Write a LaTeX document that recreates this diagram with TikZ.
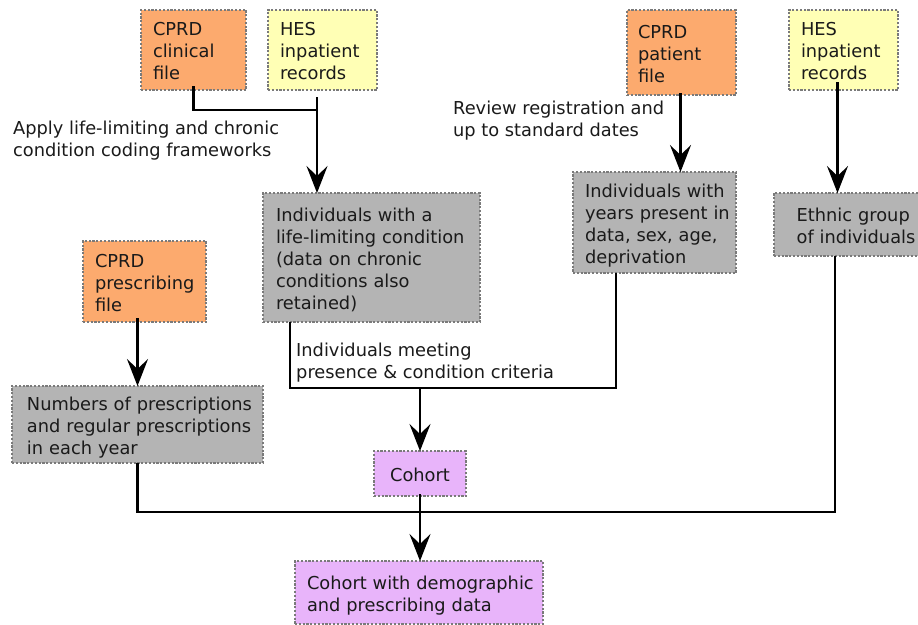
\documentclass[tikz,border=0pt]{standalone}
\usepackage{fontspec}
\setmainfont{DejaVu Sans}
\usetikzlibrary{arrows.meta,calc}
\definecolor{orangebox}{HTML}{FCAA6E}
\definecolor{yellowbox}{HTML}{FFFFB5}
\definecolor{graybox}{HTML}{B4B4B4}
\definecolor{pinkbox}{HTML}{E8B4FA}
\definecolor{txt}{HTML}{1A1A1A}
\definecolor{bord}{HTML}{7A7A7A}
\tikzset{
  every node/.style={font=\fontsize{17.8}{22}\selectfont, text=txt},
  box/.style={draw=bord, dash pattern=on 2.2pt off 1.6pt, line width=1.1pt,
    inner ysep=0pt, align=left, outer sep=0pt},
  orng/.style={box, fill=orangebox},
  yell/.style={box, fill=yellowbox},
  gry/.style={box, fill=graybox},
  pnk/.style={box, fill=pinkbox},
  lbl/.style={inner sep=0pt, align=left, anchor=west},
  conn/.style={line width=2.1pt, draw=black},
  arr/.style={conn, -{Stealth[length=27pt,width=21pt,inset=10pt]}},
}
\newcommand{\mkbox}[8]{% style, name, x1, y1, x2, y2, pad, text
  \pgfmathsetmacro{\bw}{#5-#3}\pgfmathsetmacro{\bh}{#6-#4}\pgfmathsetmacro{\tw}{#5-#3-2*#7}
  \node[#1, minimum width=\bw pt, minimum height=\bh pt, inner xsep=#7pt, text width=\tw pt]
    (#2) at ({(#3+#5)/2},{(#4+#6)/2}) {\raisebox{-3.5pt}[\height][\depth]{\begin{tabular}{@{}l@{}}#8\end{tabular}}};}
\begin{document}
\begin{tikzpicture}[x=1pt,y=-1pt]
\useasboundingbox (0,0) rectangle (918,624);
\mkbox{orng}{clin}{141}{10}{246}{90}{12}{CPRD\\clinical\\file}
\mkbox{yell}{hesa}{268}{10}{377}{90}{12}{HES\\inpatient\\records}
\mkbox{orng}{pat}{627}{10}{736}{95}{11}{CPRD\\patient\\file}
\mkbox{yell}{hesb}{789}{10}{898}{90}{12}{HES\\inpatient\\records}
\mkbox{gry}{ll}{263}{193}{480}{322}{13}{Individuals with a\\life-limiting condition\\(data on chronic\\conditions also\\retained)}
\mkbox{gry}{yrs}{573}{172}{736}{273}{12}{Individuals with\\years present in\\data, sex, age,\\deprivation}
\mkbox{gry,align=center}{eth}{774}{193}{938}{256}{12}{Ethnic group\\of individuals}
\mkbox{orng}{presc}{83}{241}{206}{322}{12}{CPRD\\prescribing\\file}
\mkbox{gry}{num}{12}{386}{263}{463}{15}{Numbers of prescriptions\\and regular prescriptions\\in each year}
\mkbox{pnk,align=center}{coh}{374}{451}{466}{496}{8}{Cohort}
\mkbox{pnk}{cwd}{295}{561}{543}{624}{12}{Cohort with demographic\\and prescribing data}

\node[lbl] (lab1) at (13,141) {Apply life-limiting and chronic\\condition coding frameworks};
\node[lbl] (lab2) at (453,121) {Review registration and\\up to standard dates};
\node[lbl] (lab3) at (296,363) {Individuals meeting\\presence \& condition criteria};

\coordinate (j1) at (317,110);
\coordinate (hesaout) at (317,97);
\coordinate (j2) at (420,388);
\coordinate (j3) at (420,512);

% clinical + HES -> life-limiting
\draw[conn] ([yshift=4pt]clin.south) |- (j1);
\draw[arr] (hesaout) -- (hesaout |- ll.north);
% patient -> years
\draw[arr] ([yshift=2pt,xshift=-1pt]pat.south) -- ([xshift=-1pt]pat.south |- yrs.north);
% HES -> ethnic
\draw[arr] ([yshift=8pt,xshift=-6pt]hesb.south) -- ([xshift=-6pt]hesb.south |- eth.north);
% prescribing -> numbers
\draw[arr] ([yshift=4pt]presc.south -| num.north) -- (num.north);
% life-limiting + years -> cohort
\draw[conn] ([xshift=27pt]ll.south west) |- (j2);
\draw[conn] ([xshift=-120pt]yrs.south east) |- (j2);
\draw[arr] (j2) -- (coh.north);
% numbers + cohort + ethnic -> final
\draw[conn] (num.south) |- (j3);
\draw[conn] (eth.south -| 835,0) |- (j3);
\draw[arr] ([yshift=2pt]coh.south) -- (coh.south |- cwd.north);
\end{tikzpicture}
\end{document}
